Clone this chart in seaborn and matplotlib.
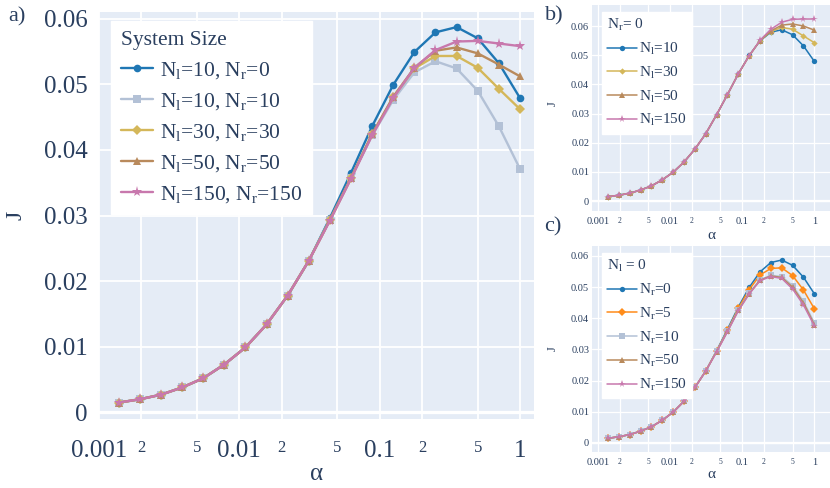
import numpy as np
import pandas as pd
import matplotlib
matplotlib.use("Agg")
import matplotlib.pyplot as plt
import seaborn as sns

# -----------------------------
# Data
# -----------------------------

alpha = [0.00138, 0.00195, 0.00276, 0.00391, 0.00552, 0.00781, 0.01105,
         0.01563, 0.02210, 0.03125, 0.04419, 0.0625, 0.08839, 0.125,
         0.17678, 0.25, 0.35355, 0.5, 0.70711, 1.0]

# panel a) system size
j_10_0 = [0.0015, 0.0020, 0.0027, 0.0038, 0.0052, 0.0073, 0.0099, 0.0134, 0.0178, 0.0231,
          0.0296, 0.0365, 0.0436, 0.0499, 0.0549, 0.0579, 0.0587, 0.0570, 0.0532, 0.0479]
j_10_10 = [0.0015, 0.0020, 0.0027, 0.0038, 0.0052, 0.0073, 0.0099, 0.0134, 0.0178, 0.0231,
           0.0293, 0.0357, 0.0422, 0.0476, 0.0518, 0.0535, 0.0524, 0.0490, 0.0436, 0.0371]
j_30_30 = [0.0015, 0.0020, 0.0027, 0.0038, 0.0052, 0.0073, 0.0099, 0.0134, 0.0178, 0.0231,
           0.0293, 0.0357, 0.0424, 0.0480, 0.0524, 0.0543, 0.0543, 0.0525, 0.0493, 0.0462]
j_50_50 = [0.0015, 0.0020, 0.0027, 0.0038, 0.0052, 0.0073, 0.0099, 0.0134, 0.0178, 0.0231,
           0.0293, 0.0357, 0.0424, 0.0481, 0.0525, 0.0551, 0.0556, 0.0547, 0.0530, 0.0512]
j_150_150 = [0.0015, 0.0020, 0.0027, 0.0038, 0.0052, 0.0073, 0.0099, 0.0134, 0.0178, 0.0231,
             0.0292, 0.0356, 0.0422, 0.0479, 0.0525, 0.0552, 0.0565, 0.0566, 0.0562, 0.0558]

# panel b) N_r = 0
jb_30 = [0.0015, 0.0020, 0.0027, 0.0038, 0.0052, 0.0073, 0.0099, 0.0134, 0.0178, 0.0231,
         0.0296, 0.0365, 0.0436, 0.0498, 0.0550, 0.0581, 0.0595, 0.0589, 0.0566, 0.0543]
jb_50 = [0.0015, 0.0020, 0.0027, 0.0038, 0.0052, 0.0073, 0.0099, 0.0134, 0.0178, 0.0231,
         0.0296, 0.0365, 0.0436, 0.0498, 0.0550, 0.0583, 0.0603, 0.0607, 0.0600, 0.0586]
jb_150 = [0.0015, 0.0020, 0.0027, 0.0038, 0.0052, 0.0073, 0.0099, 0.0134, 0.0178, 0.0231,
          0.0296, 0.0365, 0.0436, 0.0498, 0.0551, 0.0589, 0.0613, 0.0623, 0.0624, 0.0624]

# panel c) N_l = 0
jc_5 = [0.0015, 0.0020, 0.0027, 0.0038, 0.0052, 0.0073, 0.0099, 0.0134, 0.0178, 0.0231,
        0.0295, 0.0361, 0.0432, 0.0492, 0.0539, 0.0560, 0.0562, 0.0537, 0.0491, 0.0431]
jc_10 = [0.0015, 0.0020, 0.0027, 0.0038, 0.0052, 0.0073, 0.0099, 0.0134, 0.0178, 0.0231,
         0.0294, 0.0359, 0.0428, 0.0481, 0.0524, 0.0538, 0.0534, 0.0505, 0.0454, 0.0386]
jc_50 = [0.0015, 0.0020, 0.0027, 0.0038, 0.0052, 0.0073, 0.0099, 0.0134, 0.0178, 0.0231,
         0.0293, 0.0358, 0.0426, 0.0479, 0.0522, 0.0536, 0.0531, 0.0500, 0.0450, 0.0380]
jc_150 = [0.0015, 0.0020, 0.0027, 0.0038, 0.0052, 0.0073, 0.0099, 0.0134, 0.0178, 0.0231,
          0.0292, 0.0357, 0.0424, 0.0478, 0.0521, 0.0534, 0.0528, 0.0494, 0.0443, 0.0376]

x_ticks = [0.001, 0.002, 0.005, 0.01, 0.02, 0.05, 0.1, 0.2, 0.5, 1]
x_labels = ["0.001", "2", "5", "0.01", "2", "5", "0.1", "2", "5", "1"]
y_ticks = [0, 0.01, 0.02, 0.03, 0.04, 0.05, 0.06]
y_labels = ["0", "0.01", "0.02", "0.03", "0.04", "0.05", "0.06"]

BLUE = "#1f77b4"
GRAY = "#b3c1d6"
YELLOW = "#d4b75a"
BROWN = "#b98a5c"
PINK = "#c878ad"
ORANGE = "#ff8c1a"
TXT = "#2a3f5f"

# -----------------------------
# Style
# -----------------------------

sns.set_theme(style="darkgrid", rc={
    "axes.facecolor": "#E5ECF6",
    "grid.color": "white",
    "axes.edgecolor": "none",
})
plt.rcParams["font.family"] = ["Liberation Serif", "DejaVu Serif"]
plt.rcParams["mathtext.fontset"] = "custom"
plt.rcParams["mathtext.rm"] = "Liberation Serif"
plt.rcParams["mathtext.it"] = "Liberation Serif:italic"

fig = plt.figure(figsize=(8.3, 4.88), dpi=100)
ax_a = fig.add_axes([99/830, 1-419/488, 435/830, 407/488])
ax_b = fig.add_axes([592/830, 1-211/488, 238/830, 206/488])
ax_c = fig.add_axes([592/830, 1-452/488, 238/830, 206/488])


def lab(l, r=None):
    if r is None:
        return "N$_\\mathrm{" + l[0] + "}$=" + l[1:]
    return "N$_\\mathrm{l}$=" + l + ", N$_\\mathrm{r}$=" + r


def style_axes(ax, xlim, ylim, big, small, xpad, ypad, gw):
    ax.set_xscale("log")
    ax.set_xlim(*xlim)
    ax.set_ylim(*ylim)
    ax.set_xticks(x_ticks)
    ax.set_xticklabels(x_labels)
    ax.minorticks_off()
    ax.set_yticks(y_ticks)
    ax.set_yticklabels(y_labels)
    ax.tick_params(axis="x", length=0, pad=xpad, colors=TXT)
    ax.tick_params(axis="y", length=0, pad=ypad, colors=TXT, labelsize=big)
    for t in ax.get_xticklabels():
        t.set_fontsize(big if t.get_text() not in ("2", "5") else small)
    ax.grid(True, linewidth=gw)
    ax.axhline(0, color="white", linewidth=gw * 1.8, zorder=1)
    for s in ax.spines.values():
        s.set_visible(False)


def draw(ax, series, ms_scale, lw):
    for vals, color, marker, ms, label in series:
        sns.lineplot(x=alpha, y=vals, ax=ax, color=color, marker=marker,
                     markersize=ms * ms_scale, markeredgewidth=0,
                     linewidth=lw, label=label, zorder=3)


def small_legend(ax, title, y):
    leg = ax.legend(title=title, loc="upper left", bbox_to_anchor=(0.04, y),
                    borderaxespad=0, fontsize=11, title_fontsize=11, alignment="left",
                    fancybox=False, framealpha=1, edgecolor="white", facecolor="white",
                    handlelength=2.0, handletextpad=0.1, labelspacing=0.5,
                    borderpad=0.35)
    for t in leg.get_texts():
        t.set_color(TXT)
    leg.get_title().set_color(TXT)
    return leg


# -----------------------------
# a) System size
# -----------------------------

draw(ax_a, [
    (j_10_0, BLUE, "o", 5.5, lab("10", "0")),
    (j_10_10, GRAY, "s", 5.2, lab("10", "10")),
    (j_30_30, YELLOW, "D", 4.6, lab("30", "30")),
    (j_50_50, BROWN, "^", 5.2, lab("50", "50")),
    (j_150_150, PINK, "*", 8.0, lab("150", "150")),
], 1.0, 1.7)
style_axes(ax_a, (1e-3, 10**0.1), (-0.001, 0.061), 18, 12, 15, 8, 1.3)
leg = ax_a.legend(title="System Size", loc="upper left", bbox_to_anchor=(0.028, 0.978),
                  borderaxespad=0, fontsize=15.5, title_fontsize=15.5, alignment="left",
                  fancybox=False, framealpha=1, edgecolor="white", facecolor="white",
                  handlelength=1.5, handletextpad=0.3, labelspacing=0.47,
                  borderpad=0.45)
for t in leg.get_texts():
    t.set_color(TXT)
leg.get_title().set_color(TXT)
ax_a.set_xlabel("α", fontsize=18, color=TXT)
ax_a.xaxis.set_label_coords(0.5, (419-480)/407)
ax_a.xaxis.label.set_va("baseline")
ax_a.set_ylabel("J", fontsize=17, color=TXT, rotation=90)
ax_a.yaxis.set_label_coords(-0.19, 0.5)
ax_a.yaxis.label.set_va("center")

# -----------------------------
# b) N_r = 0
# -----------------------------

draw(ax_b, [
    (j_10_0, BLUE, "o", 5.5, lab("l10")),
    (jb_30, YELLOW, "D", 4.6, lab("l30")),
    (jb_50, BROWN, "^", 5.2, lab("l50")),
    (jb_150, PINK, "*", 8.0, lab("l150")),
], 0.7, 1.1)
style_axes(ax_b, (10**-3.083, 10**0.218), (-0.0034, 0.0672), 7.5, 5.5, 4, 2, 0.9)
small_legend(ax_b, "N$_\\mathrm{r}$= 0", 0.966)
ax_b.set_xlabel("α", fontsize=11, color=TXT)
ax_b.xaxis.set_label_coords(0.5, -0.117)
ax_b.xaxis.label.set_va("center")
ax_b.set_ylabel("J", fontsize=9, color=TXT)
ax_b.yaxis.set_label_coords(-0.164, 0.52)
ax_b.yaxis.label.set_va("center")

# -----------------------------
# c) N_l = 0
# -----------------------------

draw(ax_c, [
    (j_10_0, BLUE, "o", 5.5, lab("r0")),
    (jc_5, ORANGE, "D", 5.4, lab("r5")),
    (jc_10, GRAY, "s", 5.4, lab("r10")),
    (jc_50, BROWN, "^", 5.2, lab("r50")),
    (jc_150, PINK, "*", 8.0, lab("r150")),
], 0.7, 1.1)
style_axes(ax_c, (10**-3.083, 10**0.218), (-0.0029, 0.0632), 7.5, 5.5, 4, 2, 0.9)
small_legend(ax_c, "N$_\\mathrm{l}$ = 0", 0.966)
ax_c.set_xlabel("α", fontsize=11, color=TXT)
ax_c.xaxis.set_label_coords(0.5, -0.107)
ax_c.xaxis.label.set_va("center")
ax_c.set_ylabel("J", fontsize=9, color=TXT)
ax_c.yaxis.set_label_coords(-0.164, 0.5)
ax_c.yaxis.label.set_va("center")

# panel letters
fig.text(17/830, 1-17/488, "a)", fontsize=16, color=TXT, ha="center", va="center")
fig.text(554/830, 1-16/488, "b)", fontsize=16, color=TXT, ha="center", va="center")
fig.text(553/830, 1-227/488, "c)", fontsize=16, color=TXT, ha="center", va="center")

plt.savefig("out.png", dpi=100)
